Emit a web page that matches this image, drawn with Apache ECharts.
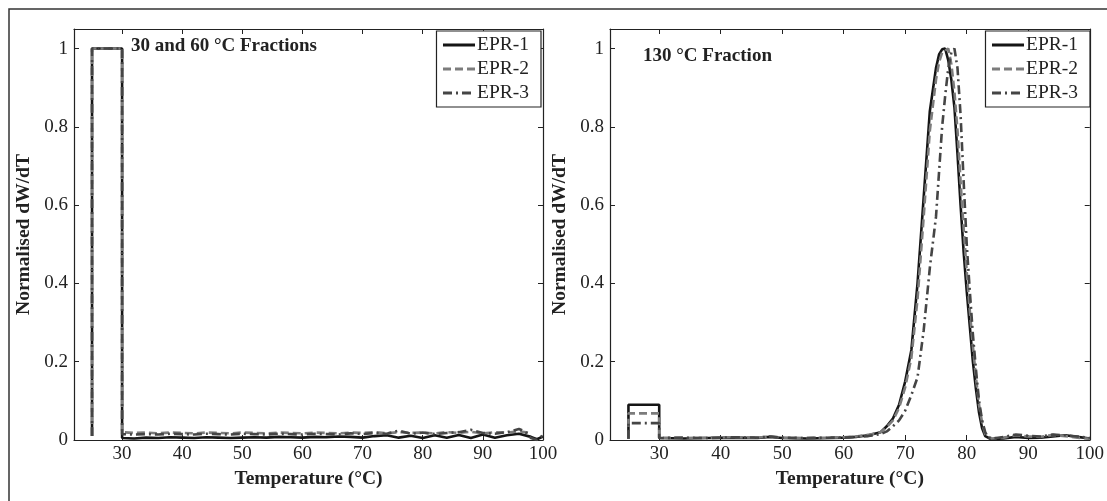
<!DOCTYPE html>
<html>
<head>
<meta charset="utf-8">
<script src="https://cdn.jsdelivr.net/npm/echarts@6/dist/echarts.min.js"></script>
<style>
html,body{margin:0;padding:0;background:#fff;}
#chart{width:1107px;height:501px;}
</style>
</head>
<body>
<div id="chart"></div>
<script>
// ---------- data ----------
const seriesNames = ['EPR-1', 'EPR-2', 'EPR-3'];
const xTickValues = [30, 40, 50, 60, 70, 80, 90, 100];
const yTickValues = [0, 0.2, 0.4, 0.6, 0.8, 1];
const leftTitle = '30 and 60 \u00B0C Fractions';
const rightTitle = '130 \u00B0C Fraction';

// Left panel: 30 and 60 °C fractions
const leftEPR1 = [[25,0.01],[25,1],[30,1],[30,0.005],[32,0.004],[34,0.006],[36,0.005],[38,0.007],[40,0.006],[42,0.005],[44,0.007],[46,0.006],[48,0.005],[50,0.006],[52,0.007],[54,0.006],[56,0.008],[58,0.007],[60,0.006],[62,0.008],[64,0.007],[66,0.009],[68,0.008],[70,0.006],[72,0.01],[74,0.012],[76,0.006],[78,0.011],[80,0.005],[82,0.012],[84,0.006],[86,0.013],[88,0.005],[90,0.014],[92,0.006],[94,0.012],[96,0.016],[98,0.008],[99,0.002],[100,0.009]];
const leftEPR2 = [[25,0.01],[25,1],[30,1],[30,0.02],[32,0.018],[34,0.019],[36,0.017],[38,0.019],[40,0.018],[42,0.017],[44,0.019],[46,0.018],[48,0.017],[50,0.019],[52,0.018],[54,0.017],[56,0.019],[58,0.018],[60,0.017],[62,0.019],[64,0.018],[66,0.017],[68,0.019],[70,0.018],[72,0.02],[74,0.017],[76,0.02],[78,0.018],[80,0.019],[82,0.017],[84,0.02],[86,0.018],[88,0.021],[90,0.017],[92,0.02],[94,0.019],[96,0.022],[98,0.018]];
const leftEPR3 = [[25,0.01],[25,1],[30,1],[30,0.015],[32,0.014],[34,0.015],[36,0.014],[38,0.016],[40,0.015],[42,0.014],[44,0.016],[46,0.015],[48,0.014],[50,0.016],[52,0.015],[54,0.014],[56,0.016],[58,0.015],[60,0.014],[62,0.016],[64,0.015],[66,0.014],[68,0.017],[70,0.015],[72,0.018],[74,0.016],[76,0.024],[78,0.016],[80,0.019],[82,0.015],[84,0.018],[86,0.02],[88,0.026],[90,0.018],[92,0.016],[94,0.02],[96,0.028],[97,0.022],[98,0.005],[99,0.0],[100,0.012]];

// Right panel: 130 °C fraction
const rightEPR1 = [[25,0.003],[25,0.09],[30,0.09],[30,0.005],[34,0.004],[38,0.005],[42,0.006],[46,0.005],[48,0.008],[50,0.005],[54,0.004],[58,0.005],[60,0.006],[62,0.008],[64,0.012],[66,0.02],[67,0.035],[68,0.055],[69,0.09],[70,0.15],[71,0.23],[72,0.4],[73,0.62],[74,0.84],[75,0.95],[75.5,0.985],[76,0.998],[76.5,1.0],[77,0.97],[77.5,0.92],[78,0.85],[78.5,0.73],[79,0.6],[79.5,0.48],[80,0.38],[80.5,0.29],[81,0.2],[81.5,0.13],[82,0.07],[82.5,0.03],[83,0.01],[84,0.002],[86,0.004],[88,0.008],[90,0.005],[92,0.006],[94,0.009],[96,0.012],[98,0.008],[100,0.004]];
const rightEPR2 = [[25,0.003],[25,0.068],[30,0.068],[30,0.006],[34,0.005],[38,0.006],[42,0.007],[46,0.006],[48,0.009],[50,0.006],[54,0.005],[58,0.006],[60,0.007],[62,0.009],[64,0.013],[66,0.02],[67,0.033],[68,0.05],[69,0.082],[70,0.135],[71,0.21],[72,0.36],[73,0.57],[74,0.79],[75,0.92],[75.5,0.965],[76,0.99],[77,1.0],[77.5,0.96],[78,0.89],[78.5,0.79],[79,0.66],[79.5,0.54],[80,0.43],[80.5,0.33],[81,0.24],[81.5,0.16],[82,0.09],[82.5,0.045],[83,0.015],[84,0.004],[86,0.006],[88,0.012],[90,0.009],[92,0.008],[94,0.013],[96,0.01],[98,0.006],[100,0.003]];
const rightEPR3 = [[25,0.003],[25,0.043],[30,0.043],[30,0.005],[34,0.006],[38,0.005],[42,0.007],[46,0.006],[48,0.009],[50,0.006],[54,0.005],[58,0.006],[60,0.006],[62,0.008],[64,0.01],[66,0.015],[67,0.022],[68,0.035],[69,0.05],[70,0.075],[71,0.115],[72,0.16],[73,0.28],[74,0.44],[75,0.57],[76,0.8],[76.5,0.88],[77,0.95],[77.5,0.99],[78,1.0],[78.5,0.95],[79,0.83],[79.5,0.66],[80,0.5],[80.5,0.38],[81,0.27],[81.5,0.18],[82,0.1],[82.5,0.05],[83,0.02],[83.5,0.006],[84,0.003],[86,0.008],[88,0.014],[90,0.011],[92,0.009],[94,0.014],[96,0.012],[98,0.009],[100,0.005]];

const leftData = [leftEPR1, leftEPR2, leftEPR3];
const rightData = [rightEPR1, rightEPR2, rightEPR3];

// ---------- styles ----------
const FONT = 'Liberation Serif';
const TXT = '#222';
const lineStyles = [
  {color: '#151515', width: 2.6, type: 'solid'},
  {color: '#7c7c7c', width: 2.6, type: [8, 4]},
  {color: '#454545', width: 2.6, type: [9, 4, 2, 4]}
];

const grids = [
  {left: 74, top: 29, width: 469, height: 411},
  {left: 610, top: 29, width: 482, height: 411}
];

function xAxes(gi) {
  const base = {gridIndex: gi, type: 'value', min: 22, max: 100,
    axisLine: {show: true, onZero: false, lineStyle: {color: '#222', width: 1.2}},
    splitLine: {show: false}};
  return [
    Object.assign({}, base, {position: 'bottom',
      name: 'Temperature (\u00B0C)', nameLocation: 'middle', nameGap: 28,
      nameTextStyle: {fontFamily: FONT, fontWeight: 'bold', fontSize: 19.5, color: TXT},
      axisTick: {show: true, inside: true, length: 5, customValues: xTickValues, lineStyle: {color: '#222'}},
      axisLabel: {show: true, customValues: xTickValues, fontFamily: FONT, fontSize: 19, color: TXT, margin: 5}}),
    Object.assign({}, base, {position: 'top',
      axisTick: {show: true, inside: true, length: 5, customValues: xTickValues, lineStyle: {color: '#222'}},
      axisLabel: {show: false}})
  ];
}
function yAxes(gi) {
  const base = {gridIndex: gi, type: 'value', min: 0, max: 1.05,
    axisLine: {show: true, onZero: false, lineStyle: {color: '#222', width: 1.2}},
    splitLine: {show: false}};
  return [
    Object.assign({}, base, {position: 'left',
      name: 'Normalised dW/dT', nameLocation: 'middle', nameGap: 40,
      nameTextStyle: {fontFamily: FONT, fontWeight: 'bold', fontSize: 19.5, color: TXT},
      axisTick: {show: true, inside: true, length: 5, customValues: yTickValues, lineStyle: {color: '#222'}},
      axisLabel: {show: true, customValues: yTickValues, fontFamily: FONT, fontSize: 19, color: TXT, margin: 6}}),
    Object.assign({}, base, {position: 'right',
      axisTick: {show: true, inside: true, length: 5, customValues: yTickValues, lineStyle: {color: '#222'}},
      axisLabel: {show: false}})
  ];
}

const xAxis = [...xAxes(0), ...xAxes(1)];
const yAxis = [...yAxes(0), ...yAxes(1)];

const series = [];
[leftData, rightData].forEach((panel, gi) => {
  panel.forEach((d, i) => {
    series.push({
      name: seriesNames[i], type: 'line', data: d,
      xAxisIndex: gi * 2, yAxisIndex: gi * 2,
      showSymbol: false, symbol: 'none', smooth: false,
      lineStyle: lineStyles[i], itemStyle: {color: lineStyles[i].color},
      animation: false
    });
  });
});

function legend(rightPx) {
  return {
    data: seriesNames, orient: 'vertical', right: rightPx, top: 31,
    itemWidth: 32, itemHeight: 14, itemGap: 4,
    itemStyle: {opacity: 0, borderWidth: 0},
    lineStyle: {width: 3},
    padding: [4, 12, 4, 5],
    backgroundColor: '#fff', borderColor: '#222', borderWidth: 1.2,
    textStyle: {fontFamily: FONT, fontSize: 19.5, color: TXT, padding: [0, 0, 0, -3]},
    selectedMode: false
  };
}

const chart = echarts.init(document.getElementById('chart'), null, {renderer: 'canvas'});
chart.setOption({
  animation: false,
  backgroundColor: '#fff',
  grid: grids,
  xAxis: xAxis,
  yAxis: yAxis,
  legend: [legend(1107 - 541), legend(1107 - 1090)],
  series: series,
  graphic: [
    {type: 'rect', shape: {x: 9, y: 9, width: 1120, height: 520}, style: {fill: 'none', stroke: '#333', lineWidth: 1.5}, silent: true},
    {type: 'text', left: 131, top: 37, style: {text: leftTitle, fontFamily: FONT, fontWeight: 'bold', fontSize: 19, fill: TXT}},
    {type: 'text', left: 643, top: 47, style: {text: rightTitle, fontFamily: FONT, fontWeight: 'bold', fontSize: 19, fill: TXT}}
  ]
});
</script>
</body>
</html>
